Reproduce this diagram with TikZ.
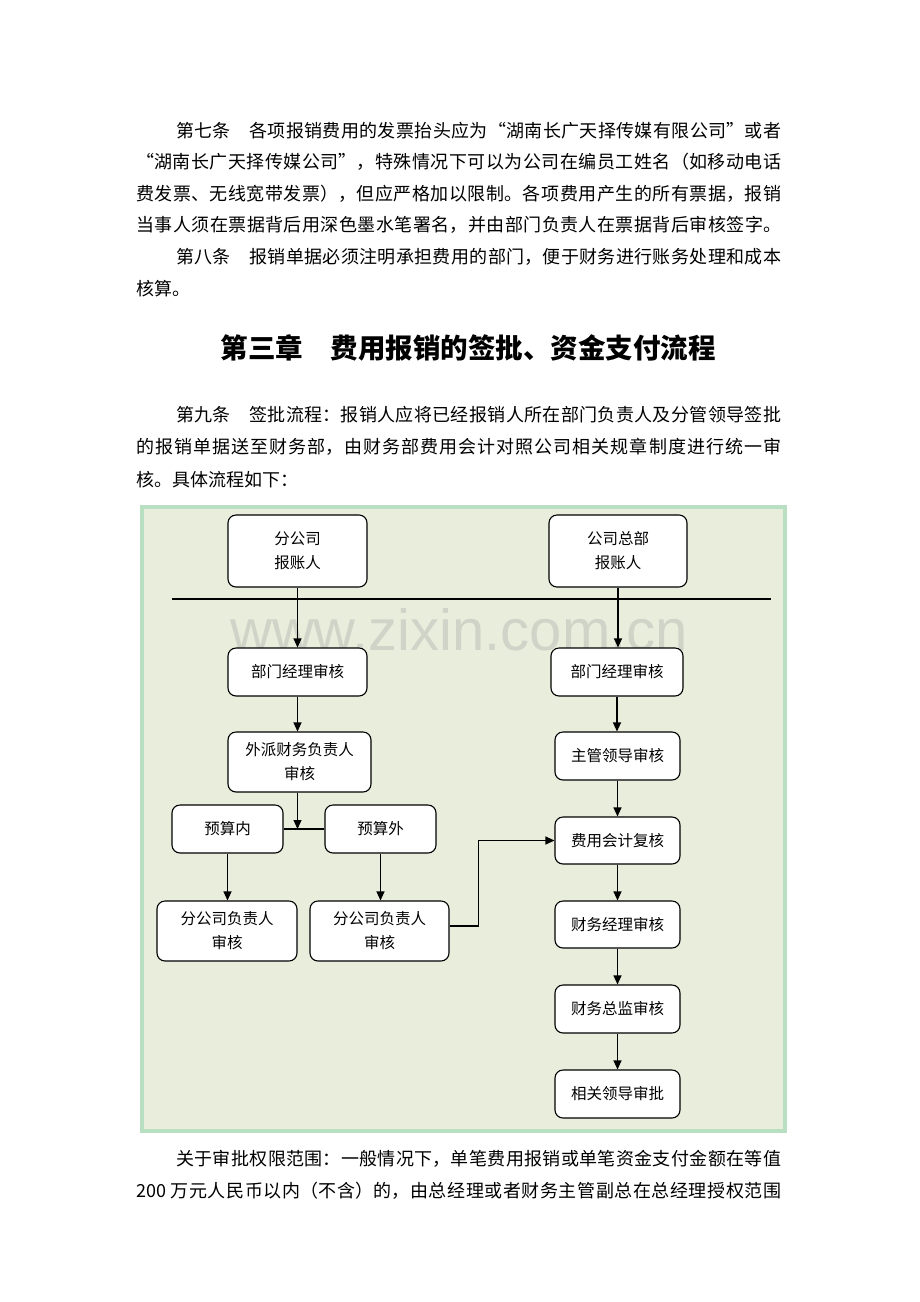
\documentclass[tikz,border=0pt]{standalone}
\usepackage{fontspec}
\setmainfont{Noto Sans CJK SC}
\newfontfamily\wmfont{Liberation Sans}
\usetikzlibrary{arrows.meta}
\XeTeXlinebreaklocale "zh"
\XeTeXlinebreakskip=0pt plus 2pt minus 0.5pt
\definecolor{framegreen}{RGB}{185,223,194}
\definecolor{panelfill}{RGB}{233,237,220}
\definecolor{wmgray}{RGB}{208,211,199}
\begin{document}
\begin{tikzpicture}[x=1pt,y=-1pt,
  flowbox/.style={draw=black, fill=white, rounded corners=8pt, line width=1.1pt, inner sep=0pt, align=center, font=\fontsize{15.5}{24}\selectfont},
  flowarrow/.style={draw=black, line width=1.1pt, -{Triangle[length=9pt,width=8pt]}},
  flowline/.style={draw=black, line width=1.1pt},
  para/.style={anchor=base west, inner sep=0pt, text width=645pt, align=justify},
]
\useasboundingbox (0,0) rectangle (920,1302);
\fill[white] (0,0) rectangle (920,1302);

% text above
\node[para, font=\fontsize{18}{31.6}\selectfont] (p1) at (136,137) {\parfillskip=0pt\hspace*{40pt}第七条　各项报销费用的发票抬头应为“湖南长广天择传媒有限公司”或者\linebreak “湖南长广天择传媒公司”，特殊情况下可以为公司在编员工姓名（如移动电话\linebreak 费发票、无线宽带发票），但应严格加以限制。各项费用产生的所有票据，报销\linebreak 当事人须在票据背后用深色墨水笔署名，并由部门负责人在票据背后审核签字。\par\parfillskip=0pt plus 1fil\hspace*{40pt}第八条　报销单据必须注明承担费用的部门，便于财务进行账务处理和成本\linebreak 核算。};

\node[anchor=base, inner sep=0pt, font=\fontsize{27.5}{33}\selectfont\bfseries] (title) at (468,358.5) {第三章　费用报销的签批、资金支付流程};

\node[para, font=\fontsize{18}{32.5}\selectfont] (p2) at (136,421) {\hspace*{40pt}第九条　签批流程：报销人应将已经报销人所在部门负责人及分管领导签批\linebreak 的报销单据送至财务部，由财务部费用会计对照公司相关规章制度进行统一审\linebreak 核。具体流程如下：};

% diagram panel
\draw[line width=4pt, draw=framegreen, fill=panelfill] (142,507) rectangle (785,1131);
\node[anchor=base, inner sep=0pt, text=wmgray, font=\wmfont\fontsize{58}{58}\selectfont] (wm) at (459,650) {www.zixin.com.cn};

\coordinate (sepL) at (172,599);
\coordinate (sepR) at (771,599);
\draw[flowline] (sepL) -- (sepR);

\node[flowbox, minimum width=139pt, minimum height=72pt] (A) at (297.5,551) {分公司\\报账人};
\node[flowbox, minimum width=138pt, minimum height=72pt] (B) at (618,551) {公司总部\\报账人};
\node[flowbox, minimum width=139pt, minimum height=48pt] (C) at (297.5,672) {部门经理审核};
\node[flowbox, minimum width=132pt, minimum height=48pt] (D) at (617,672) {部门经理审核};
\node[flowbox, minimum width=143pt, minimum height=60pt] (E) at (299.5,762) {外派财务负责人\\审核};
\node[flowbox, minimum width=125pt, minimum height=48pt] (F) at (617.5,756) {主管领导审核};
\node[flowbox, minimum width=111pt, minimum height=48pt] (G) at (227.5,829) {预算内};
\node[flowbox, minimum width=111pt, minimum height=48pt] (H) at (380.5,829) {预算外};
\node[flowbox, minimum width=125pt, minimum height=47pt] (I) at (617.5,840.5) {费用会计复核};
\node[flowbox, minimum width=140pt, minimum height=60pt] (J) at (227,931) {分公司负责人\\审核};
\node[flowbox, minimum width=139pt, minimum height=60pt] (K) at (379.5,931) {分公司负责人\\审核};
\node[flowbox, minimum width=125pt, minimum height=47pt] (L) at (617.5,924.5) {财务经理审核};
\node[flowbox, minimum width=125pt, minimum height=48pt] (M) at (617.5,1009) {财务总监审核};
\node[flowbox, minimum width=125pt, minimum height=48pt] (N) at (617.5,1094) {相关领导审批};

\draw[flowarrow] (A.south) -- (A.south |- C.north);
\draw[flowarrow] (B.south) -- (B.south |- D.north);
\draw[flowarrow] (C.south) -- (C.south |- E.north);
\draw[flowline] (G.east) -- (H.west);
\draw[flowarrow] (E.south -| C.south) -- (G.east -| C.south);
\draw[flowarrow] (G.south) -- (G.south |- J.north);
\draw[flowarrow] (H.south) -- (H.south |- K.north);
\draw[flowarrow] ([yshift=5pt]K.east) -- ++(29,0) |- (I.west);
\draw[flowarrow] (D.south) -- (D.south |- F.north);
\draw[flowarrow] (F.south) -- (F.south |- I.north);
\draw[flowarrow] (I.south) -- (I.south |- L.north);
\draw[flowarrow] (L.south) -- (L.south |- M.north);
\draw[flowarrow] (M.south) -- (M.south |- N.north);

% text below
\node[para, font=\fontsize{18}{32}\selectfont] (p3) at (136,1165) {\parfillskip=0pt\hspace*{40pt}关于审批权限范围：一般情况下，单笔费用报销或单笔资金支付金额在等值\linebreak 200 万元人民币以内（不含）的，由总经理或者财务主管副总在总经理授权范围\par};
\end{tikzpicture}
\end{document}
